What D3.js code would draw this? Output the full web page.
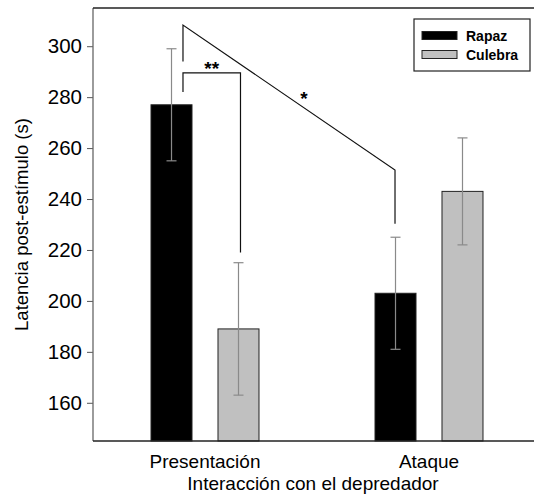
<!DOCTYPE html>
<html>
<head>
<meta charset="utf-8">
<script src="https://cdn.jsdelivr.net/npm/d3@7"></script>
<style>
  html, body { margin: 0; padding: 0; background: #fff; }
  svg text { font-family: "Liberation Sans", Arial, sans-serif; fill: #000; }
</style>
</head>
<body>
<div id="chart"></div>
<script>
// Latencia post-estímulo por tipo de depredador (barras agrupadas + error)

// ---------- Data ----------
const groups = ["Presentación", "Ataque"];
const series = ["Rapaz", "Culebra"];
const rapazMeans = [277, 203];
const rapazErrors = [22, 22];
const culebraMeans = [189, 243];
const culebraErrors = [26, 21];
const yTicks = [160, 180, 200, 220, 240, 260, 280, 300];

// significance marks (y values in data units)
const sigLabels = ["**", "*"];
const sigTops = [289.5, 308.3];
const sigLeftEnds = [282, 294];
const sigRightTops = [289.5, 251.4];
const sigRightEnds = [219, 230.3];

(function () {
  const W = 534, H = 498;
  const margin = { top: 8, left: 93, bottom: 57 };
  const plotRight = 541; // plot area runs a bit past the picture edge

  const svg = d3.select("#chart").append("svg")
    .attr("width", W)
    .attr("height", H);

  // Scales
  const x = d3.scaleBand()
    .domain(groups)
    .range([margin.left, plotRight])
    .padding(0);

  const xSub = d3.scaleBand()
    .domain(series)
    .range([0, x.bandwidth()])
    .paddingInner(0.388)
    .paddingOuter(0.866);

  const y = d3.scaleLinear()
    .domain([145, 315])
    .range([H - margin.bottom, margin.top]);

  const colors = { Rapaz: "#000000", Culebra: "#c0c0c0" };

  // Rows built from the arrays
  const rows = [];
  groups.forEach((g, i) => {
    rows.push({ group: g, series: "Rapaz", mean: rapazMeans[i], err: rapazErrors[i] });
    rows.push({ group: g, series: "Culebra", mean: culebraMeans[i], err: culebraErrors[i] });
  });

  const barX = d => x(d.group) + xSub(d.series);
  const barMid = (g, s) => x(g) + xSub(s) + xSub.bandwidth() / 2;

  // Bars
  svg.selectAll(".bar")
    .data(rows)
    .enter()
    .append("rect")
    .attr("class", "bar")
    .attr("x", barX)
    .attr("width", xSub.bandwidth())
    .attr("y", d => y(d.mean))
    .attr("height", d => y(145) - y(d.mean))
    .attr("fill", d => colors[d.series])
    .attr("stroke", "#222")
    .attr("stroke-width", 1);

  // Error bars
  const capW = 5;
  const eb = svg.selectAll(".err")
    .data(rows)
    .enter()
    .append("g")
    .attr("class", "err")
    .attr("stroke", "#8a8a8a")
    .attr("stroke-width", 1.2);

  eb.append("line")
    .attr("x1", d => barMid(d.group, d.series))
    .attr("x2", d => barMid(d.group, d.series))
    .attr("y1", d => y(d.mean + d.err))
    .attr("y2", d => y(d.mean - d.err));

  [1, -1].forEach(sign => {
    eb.append("line")
      .attr("x1", d => barMid(d.group, d.series) - capW)
      .attr("x2", d => barMid(d.group, d.series) + capW)
      .attr("y1", d => y(d.mean + sign * d.err))
      .attr("y2", d => y(d.mean + sign * d.err));
  });

  // Axes
  const yAxis = svg.append("g")
    .attr("transform", `translate(${margin.left},0)`)
    .call(d3.axisLeft(y).tickValues(yTicks).tickSize(6).tickPadding(5));
  yAxis.select(".domain").remove();
  yAxis.selectAll(".tick line").attr("stroke", "#555");
  yAxis.selectAll("text").style("font-size", "20.5px");

  const frame = svg.append("g").attr("stroke-width", 1.3);
  frame.append("line")
    .attr("stroke", "#666")
    .attr("x1", margin.left).attr("x2", margin.left)
    .attr("y1", y.range()[1]).attr("y2", y.range()[0]);
  frame.append("line")
    .attr("stroke", "#222")
    .attr("x1", margin.left).attr("x2", plotRight)
    .attr("y1", y.range()[0]).attr("y2", y.range()[0]);
  frame.append("line")
    .attr("stroke", "#222")
    .attr("x1", margin.left).attr("x2", plotRight)
    .attr("y1", y.range()[1]).attr("y2", y.range()[1]);

  const xAxis = svg.append("g")
    .attr("transform", `translate(0,${y.range()[0]})`)
    .call(d3.axisBottom(x).tickSize(0).tickPadding(14));
  xAxis.select(".domain").remove();
  xAxis.selectAll("text").style("font-size", "19px");

  // Axis titles
  svg.append("text")
    .attr("x", 313)
    .attr("y", 490)
    .attr("text-anchor", "middle")
    .style("font-size", "19px")
    .text("Interacción con el depredador");

  svg.append("text")
    .attr("transform", "rotate(-90)")
    .attr("x", -(y.range()[0] + y.range()[1]) / 2)
    .attr("y", 28)
    .attr("text-anchor", "middle")
    .style("font-size", "18.5px")
    .text("Latencia post-estímulo (s)");

  // Significance lines
  const leftLegX = barMid("Presentación", "Rapaz") + xSub.bandwidth() * 0.28;
  const rightLegX = [
    barMid("Presentación", "Culebra") + 2,
    barMid("Ataque", "Rapaz") - 0.5
  ];

  const sig = svg.append("g")
    .attr("fill", "none")
    .attr("stroke", "#111")
    .attr("stroke-width", 1.2);

  sigLabels.forEach((lab, i) => {
    const pts = [
      [leftLegX, y(sigLeftEnds[i])],
      [leftLegX, y(sigTops[i])],
      [rightLegX[i], y(sigRightTops[i])],
      [rightLegX[i], y(sigRightEnds[i])]
    ];
    sig.append("path").attr("d", d3.line()(pts));
  });

  svg.append("text")
    .attr("x", (leftLegX + rightLegX[0]) / 2)
    .attr("y", y(sigTops[0]) + 2)
    .attr("text-anchor", "middle")
    .style("font-size", "19px")
    .style("font-weight", "bold")
    .text(sigLabels[0]);

  svg.append("text")
    .attr("x", (leftLegX + rightLegX[1]) / 2 + 15)
    .attr("y", (y(sigTops[1]) + y(sigRightTops[1])) / 2 + 7)
    .attr("text-anchor", "middle")
    .style("font-size", "19px")
    .style("font-weight", "bold")
    .text(sigLabels[1]);

  // Legend
  const legend = svg.append("g").attr("transform", "translate(414,19)");
  legend.append("rect")
    .attr("width", 116)
    .attr("height", 52)
    .attr("fill", "#fff")
    .attr("stroke", "#222")
    .attr("stroke-width", 1.2);

  series.forEach((s, i) => {
    const row = legend.append("g").attr("transform", `translate(8,${12.5 + i * 19})`);
    row.append("rect")
      .attr("width", 35)
      .attr("height", 8)
      .attr("fill", colors[s])
      .attr("stroke", "#222")
      .attr("stroke-width", 1);
    row.append("text")
      .attr("x", 44)
      .attr("y", 9.5)
      .style("font-size", "14px")
      .style("font-weight", "bold")
      .text(s);
  });
})();
</script>
</body>
</html>
